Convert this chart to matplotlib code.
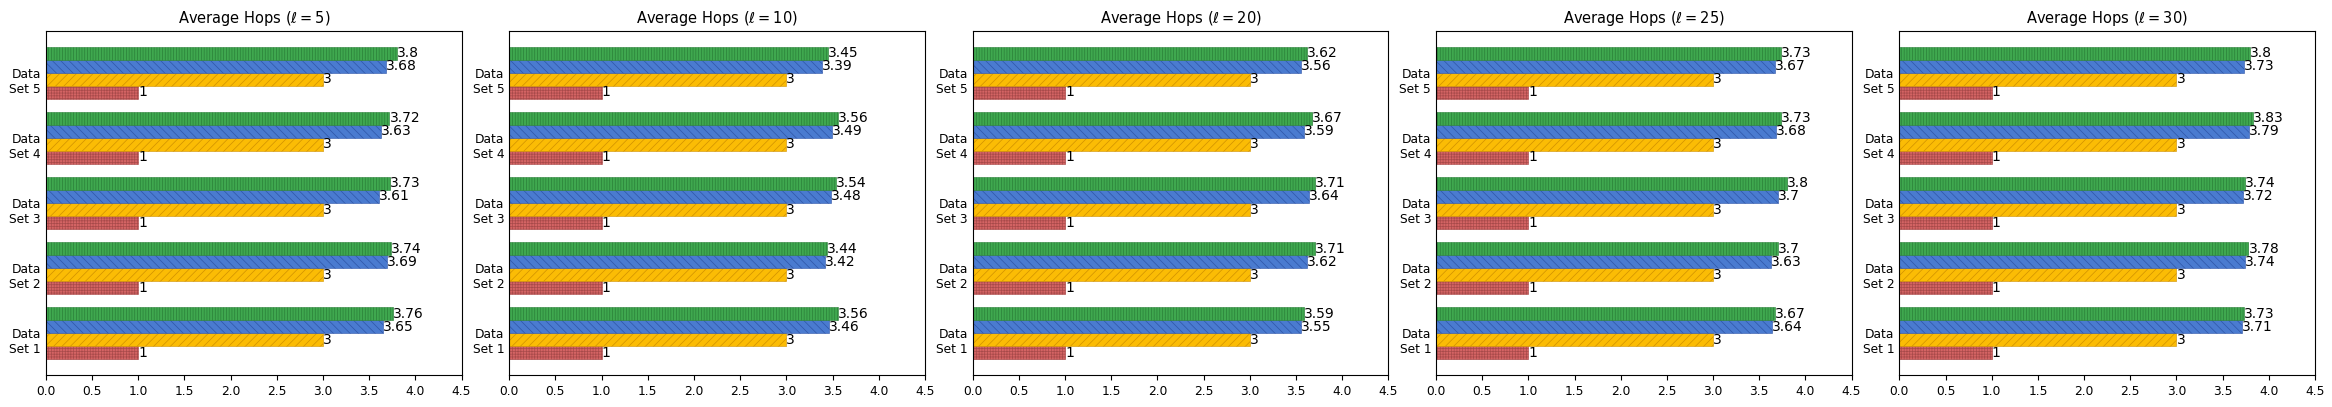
import numpy as np
from matplotlib import pyplot as plt

plt.rcParams['hatch.linewidth'] = 0.5

datasets = ['Data\nSet 1', 'Data\nSet 2', 'Data\nSet 3', 'Data\nSet 4', 'Data\nSet 5']
ells = [5, 10, 20, 25, 30]

# red and yellow bars are the same in every panel
red_vals = [1, 1, 1, 1, 1]
yellow_vals = [3, 3, 3, 3, 3]

# blue / green bars, Data Set 1 .. Data Set 5
blue_l5 = [3.65, 3.69, 3.61, 3.63, 3.68]
green_l5 = [3.76, 3.74, 3.73, 3.72, 3.8]
blue_l10 = [3.46, 3.42, 3.48, 3.49, 3.39]
green_l10 = [3.56, 3.44, 3.54, 3.56, 3.45]
blue_l20 = [3.55, 3.62, 3.64, 3.59, 3.56]
green_l20 = [3.59, 3.71, 3.71, 3.67, 3.62]
blue_l25 = [3.64, 3.63, 3.7, 3.68, 3.67]
green_l25 = [3.67, 3.7, 3.8, 3.73, 3.73]
blue_l30 = [3.71, 3.74, 3.72, 3.79, 3.73]
green_l30 = [3.73, 3.78, 3.74, 3.83, 3.8]

blues = [blue_l5, blue_l10, blue_l20, blue_l25, blue_l30]
greens = [green_l5, green_l10, green_l20, green_l25, green_l30]

styles = [
    ('#d46464', '#a84a4a', '++++++'),
    ('#fbbc05', '#d09000', '////'),
    ('#4a7bd0', '#2f55a8', '\\\\\\\\'),
    ('#3fa84f', '#2a7f38', '||||||'),
]

fig, axes = plt.subplots(1, 5, figsize=(23.32, 4.07), dpi=100)
fig.subplots_adjust(left=0.0197, right=0.9927, top=0.9238, bottom=0.0786, wspace=0.115)

ind = np.arange(len(datasets))
h = 0.2

for k, ax in enumerate(axes):
    series = [red_vals, yellow_vals, blues[k], greens[k]]
    for j, vals in enumerate(series):
        face, edge, hatch = styles[j]
        bars = ax.barh(ind + j * h, vals, h, color=face, edgecolor=edge,
                       hatch=hatch, linewidth=0.4)
        ax.bar_label(bars, fmt='%g', padding=0, fontsize=10)
    ax.set_yticks(ind + h)
    ax.set_yticklabels(datasets)
    ax.tick_params(axis='y', length=0, labelsize=8.8)
    ax.tick_params(axis='x', labelsize=8.8)
    ax.set_xlim(0, 4.5)
    ax.set_xticks(np.arange(0, 4.6, 0.5))
    ax.set_title(r'Average Hops ($\ell = %d$)' % ells[k], fontsize=10.5)

plt.savefig('out.png')
